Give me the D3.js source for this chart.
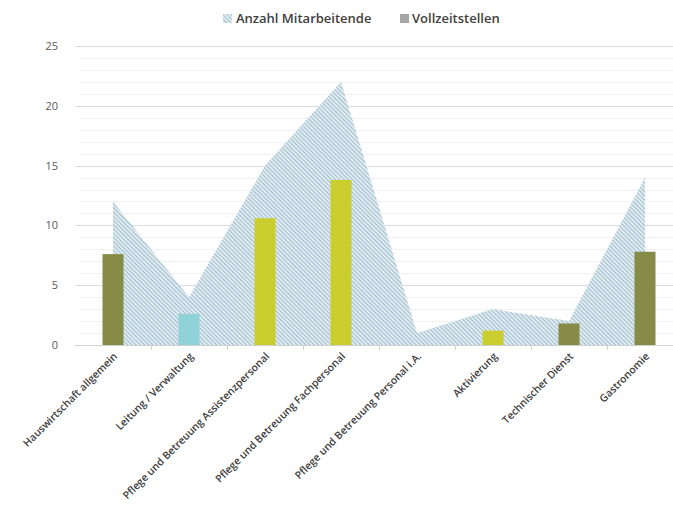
<!DOCTYPE html>
<html>
<head>
<meta charset="utf-8">
<script src="https://cdn.jsdelivr.net/npm/d3@7"></script>
<style>
  body { margin: 0; background: #fff; }
  text { font-family: "Open Sans", "DejaVu Sans", sans-serif; }
</style>
</head>
<body>
<svg width="673" height="506"></svg>
<script>
var categories = ["Hauswirtschaft allgemein", "Leitung / Verwaltung", "Pflege und Betreuung Assistenzpersonal",
  "Pflege und Betreuung Fachpersonal", "Pflege und Betreuung Personal i.A.", "Aktivierung",
  "Technischer Dienst", "Gastronomie"];
var mitarbeitende = [12, 4, 15, 22, 1, 3, 2, 14];
var vollzeit = [7.6, 2.6, 10.6, 13.8, 0, 1.2, 1.8, 7.8];
var barColors = ["#868c48", "#8fd3d8", "#c9cd2e", "#c9cd2e", "#c9cd2e", "#c9cd2e", "#868c48", "#868c48"];
var yTicks = [0, 5, 10, 15, 20, 25];
var legendNames = ["Anzahl Mitarbeitende", "Vollzeitstellen"];

var svg = d3.select("svg"),
    plotLeft = 75, plotTop = 46, plotBottom = 345, bandW = 76;

var x = d3.scaleBand()
    .domain(categories)
    .range([plotLeft, plotLeft + bandW * categories.length]);

var y = d3.scaleLinear().domain([0, 25]).range([plotBottom, plotTop]);

var defs = svg.append("defs");
var pat = defs.append("pattern")
    .attr("id", "hatch")
    .attr("patternUnits", "userSpaceOnUse")
    .attr("width", 3).attr("height", 3)
    .attr("patternTransform", "rotate(45)");
pat.append("rect").attr("width", 3).attr("height", 3).attr("fill", "#eef3f6");
pat.append("rect").attr("width", 3).attr("height", 1.4).attr("fill", "#a3c2d1");

// minor gridlines
svg.append("g").selectAll("line")
  .data(d3.range(1, 26).filter(function(d) { return d % 5; }))
  .enter().append("line")
    .attr("x1", 80).attr("x2", 673)
    .attr("y1", function(d) { return Math.round(y(d)) + 0.5; })
    .attr("y2", function(d) { return Math.round(y(d)) + 0.5; })
    .attr("stroke", "#f0f0f0");

// major gridlines
svg.append("g").selectAll("line")
  .data(yTicks.slice(1))
  .enter().append("line")
    .attr("x1", plotLeft).attr("x2", 673)
    .attr("y1", function(d) { return Math.round(y(d)) + 0.5; })
    .attr("y2", function(d) { return Math.round(y(d)) + 0.5; })
    .attr("stroke", "#dcdcdc");

// y labels
svg.append("g").selectAll("text")
  .data(yTicks)
  .enter().append("text")
    .attr("x", 58)
    .attr("y", function(d) { return y(d) + 4; })
    .attr("text-anchor", "end")
    .attr("font-size", 11)
    .attr("fill", "#595959")
    .text(function(d) { return d; });

// area
var area = d3.area()
    .x(function(d, i) { return x(categories[i]) + x.bandwidth() / 2; })
    .y0(y(0))
    .y1(function(d) { return y(d); });

svg.append("path")
  .datum(mitarbeitende)
  .attr("d", area)
  .attr("fill", "url(#hatch)");

// bars
var barW = 21;
svg.append("g").selectAll("rect")
  .data(vollzeit)
  .enter().append("rect")
    .attr("x", function(d, i) { return x(categories[i]) + x.bandwidth() / 2 - barW / 2; })
    .attr("y", function(d) { return y(d); })
    .attr("width", barW)
    .attr("height", function(d) { return y(0) - y(d); })
    .attr("fill", function(d, i) { return barColors[i]; });

// x axis line and ticks
svg.append("line")
  .attr("x1", plotLeft).attr("x2", 673)
  .attr("y1", plotBottom + 0.5).attr("y2", plotBottom + 0.5)
  .attr("stroke", "#d0d0d0");

svg.append("g").selectAll("line")
  .data(categories.slice(1))
  .enter().append("line")
    .attr("x1", function(d) { return Math.round(x(d)) + 0.5; })
    .attr("x2", function(d) { return Math.round(x(d)) + 0.5; })
    .attr("y1", plotBottom).attr("y2", plotBottom + 5)
    .attr("stroke", "#d0d0d0");

// x labels
svg.append("g").selectAll("text")
  .data(categories)
  .enter().append("text")
    .attr("transform", function(d) {
      return "translate(" + (x(d) + x.bandwidth() / 2 + 5) + "," + (plotBottom + 12) + ") rotate(-45)";
    })
    .attr("text-anchor", "end")
    .attr("font-size", 10.4)
    .attr("font-weight", 600)
    .attr("fill", "#404040")
    .text(function(d) { return d; });

// legend
var lg = svg.append("g").attr("transform", "translate(0,20)");
lg.append("rect").attr("x", 223).attr("y", -6).attr("width", 9).attr("height", 9).attr("fill", "url(#hatch)");
lg.append("text").attr("x", 236).attr("y", 3).attr("font-size", 13).attr("font-weight", 600)
  .attr("fill", "#404040").text(legendNames[0]);
lg.append("rect").attr("x", 400).attr("y", -6).attr("width", 9).attr("height", 9).attr("fill", "#a6a6a6");
lg.append("text").attr("x", 412).attr("y", 3).attr("font-size", 13).attr("font-weight", 600)
  .attr("fill", "#404040").text(legendNames[1]);
</script>
</body>
</html>
